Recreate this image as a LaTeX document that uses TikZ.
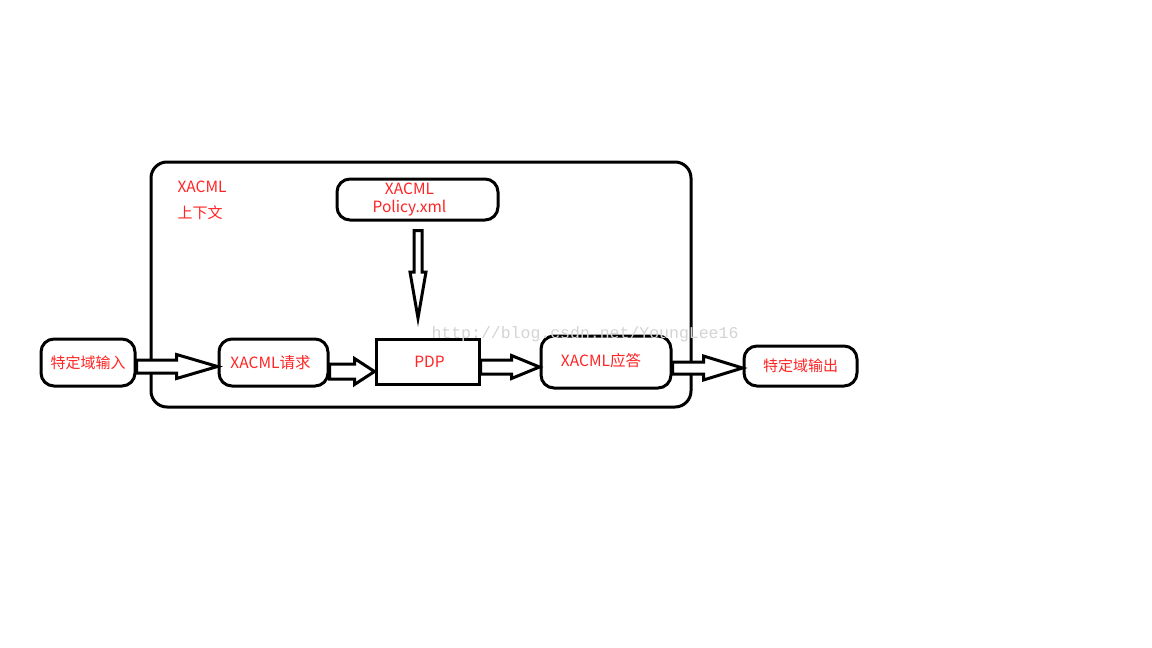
\documentclass[tikz,border=0pt]{standalone}
\usepackage{fontspec}
\usepackage{tikz}
\usetikzlibrary{calc,positioning}
\newfontfamily\cjk{Noto Sans CJK SC}
\newfontfamily\wmfont{Liberation Mono}
\definecolor{Ink}{HTML}{000000}
\definecolor{Label}{HTML}{FF2424}
\definecolor{Mark}{HTML}{D4D4D4}

\tikzset{
  box/.style={draw=Ink,line width=3pt,rounded corners=13pt,text=Label,inner sep=0pt,
    font=\cjk\fontsize{15.5}{18}\selectfont},
  fat/.style={draw=Ink,line width=3pt,fill=white,line join=miter},
}
% hollow block arrow: from, to, shaft half width, head half width, head length
\newcommand\fatarrow[5]{%
  \draw[fat] let \p1=(#1), \p2=(#2) in
    (\x1,\y1+#3) -- (\x2-#5,\y1+#3) -- (\x2-#5,\y1+#4) -- (\x2,\y1)
    -- (\x2-#5,\y1-#4) -- (\x2-#5,\y1-#3) -- (\x1,\y1-#3) -- cycle;}

\begin{document}
\begin{tikzpicture}[x=1pt,y=-1pt]
    \useasboundingbox[fill=white] (0,0) rectangle (1152,648);

    \node[box,rounded corners=16pt,minimum width=540pt,minimum height=245pt] (ctx) at (421,284.5) {};
    \node[anchor=west,text=Label,font=\cjk\fontsize{15.5}{18}\selectfont] (ctxa) at (174,187) {XACML};
    \node[anchor=west,text=Label,font=\cjk\fontsize{15}{18}\selectfont] (ctxb) at (174,213) {上下文};

    \node[box,minimum width=161pt,minimum height=41pt,align=center,font=\cjk\fontsize{15.5}{18}\selectfont] (pol) at (417.5,199.5) {\hspace*{-16pt}XACML\\\hspace*{-16pt}Policy.xml};

    \node[box,minimum width=94pt,minimum height=47pt,font=\cjk\fontsize{15}{18}\selectfont] (input) at (88,362.5) {\raisebox{-3pt}{特定域输入}};
    \node[box,minimum width=109pt,minimum height=47pt] (req) at (273.5,362.5) {\raisebox{1pt}{\hspace*{-6pt}XACML请求}};
    \node[box,rounded corners=0pt,minimum width=103pt,minimum height=45pt] (pdp) at (427.5,361.5) {\raisebox{-2pt}{\hspace*{4pt}PDP}};
    \node[box,minimum width=130pt,minimum height=52pt] (resp) at (606,362) {\raisebox{5pt}{\hspace*{-10pt}XACML应答}};
    \node[box,minimum width=113pt,minimum height=40pt,font=\cjk\fontsize{15}{18}\selectfont] (out) at (800.5,366) {特定域输出};

    \fatarrow{[yshift=-4pt]input.east}{req.west}{6.5pt}{12pt}{41pt}
    \fatarrow{[yshift=-9pt]req.east}{pdp.west}{7.5pt}{13pt}{20pt}
    \fatarrow{[yshift=-5.5pt]pdp.east}{resp.west}{7pt}{11.5pt}{28pt}
    \fatarrow{[yshift=-6pt]resp.east}{out.west}{6pt}{12pt}{39pt}

    \coordinate (poltip) at (418,318);
    \draw[fat] let \p1=([yshift=-9pt]pol.south), \p2=(poltip) in
      (\x2-4pt,\y1) -- (\x2-4pt,\y2+46pt) -- (\x2-8pt,\y2+46pt) -- (\x2,\y2)
      -- (\x2+8pt,\y2+46pt) -- (\x2+4pt,\y2+46pt) -- (\x2+4pt,\y1) -- cycle;

    \node[anchor=west,text=Mark,font=\wmfont\fontsize{16.5}{18}\selectfont] (mark) at (428,334) {http://blog.csdn.net/YoungLee16};
  \end{tikzpicture}
\end{document}
